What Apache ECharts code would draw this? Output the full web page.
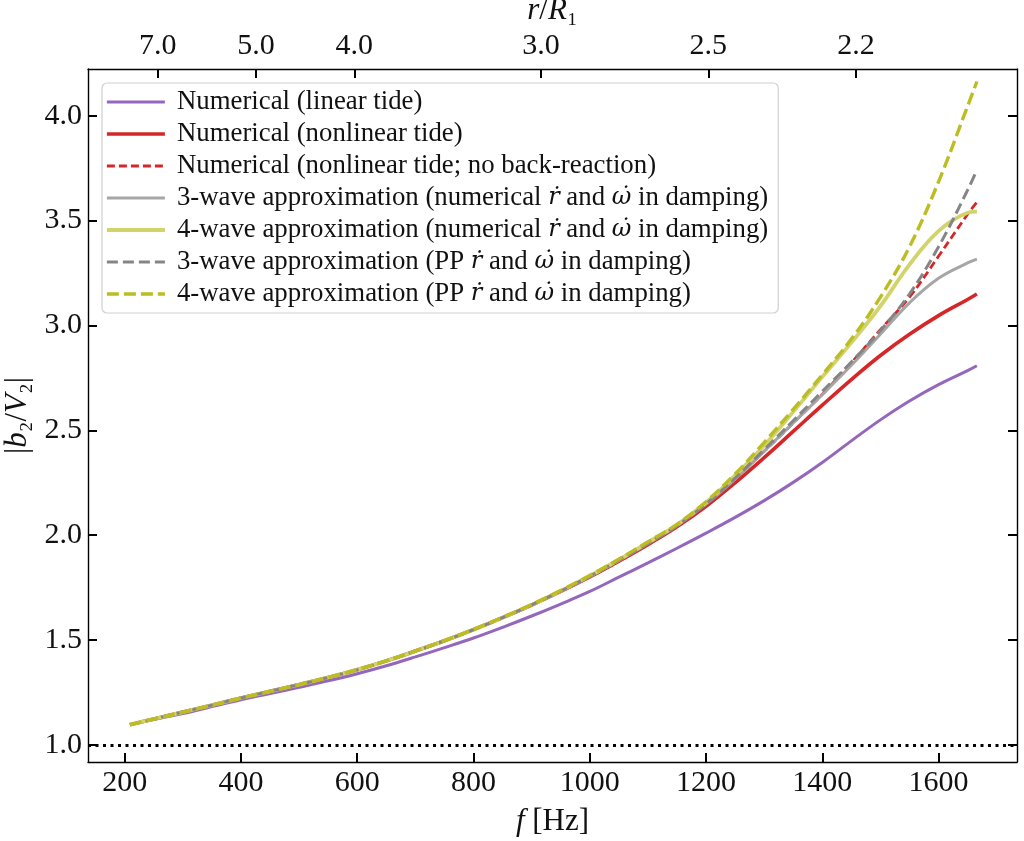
<!DOCTYPE html>
<html>
<head>
<meta charset="utf-8">
<script src="https://cdn.jsdelivr.net/npm/echarts@6/dist/echarts.min.js"></script>
<style>
  html, body { margin: 0; padding: 0; background: #fff; }
  #chart { width: 1024px; height: 841px; }
</style>
</head>
<body>
<div id="chart"></div>
<script>
// frequency grid (Hz)
var fHz = [209, 250, 300, 350, 400, 450, 500, 550, 600, 650, 700, 750, 800, 850, 900, 950, 1000,
           1050, 1100, 1150, 1200, 1250, 1300, 1350, 1400, 1450, 1500, 1550, 1600, 1650, 1666];

// |b2/V2| for each run
var linearTide     = [1.097, 1.122, 1.150, 1.183, 1.216, 1.245, 1.275, 1.306, 1.340, 1.378, 1.420, 1.464, 1.510, 1.561, 1.615, 1.672, 1.732,
                      1.800, 1.868, 1.938, 2.010, 2.085, 2.165, 2.252, 2.347, 2.450, 2.550, 2.640, 2.718, 2.785, 2.808];
var nonlinearTide  = [1.097, 1.124, 1.157, 1.190, 1.224, 1.256, 1.288, 1.322, 1.359, 1.401, 1.448, 1.497, 1.550, 1.607, 1.667, 1.732, 1.801,
                      1.876, 1.955, 2.040, 2.138, 2.250, 2.370, 2.495, 2.620, 2.742, 2.857, 2.958, 3.047, 3.124, 3.150];
var noBackReaction = [1.097, 1.124, 1.157, 1.190, 1.224, 1.256, 1.288, 1.322, 1.359, 1.401, 1.448, 1.497, 1.550, 1.607, 1.668, 1.734, 1.804,
                      1.880, 1.960, 2.045, 2.148, 2.268, 2.400, 2.535, 2.672, 2.822, 2.980, 3.135, 3.330, 3.530, 3.588];
var threeWaveNum   = [1.097, 1.124, 1.157, 1.190, 1.224, 1.256, 1.288, 1.322, 1.359, 1.401, 1.448, 1.497, 1.550, 1.607, 1.668, 1.734, 1.804,
                      1.880, 1.960, 2.045, 2.148, 2.268, 2.400, 2.535, 2.670, 2.810, 2.958, 3.108, 3.225, 3.298, 3.316];
var fourWaveNum    = [1.097, 1.124, 1.157, 1.190, 1.224, 1.256, 1.288, 1.322, 1.359, 1.401, 1.448, 1.497, 1.550, 1.607, 1.668, 1.735, 1.806,
                      1.884, 1.966, 2.050, 2.156, 2.285, 2.428, 2.588, 2.755, 2.918, 3.092, 3.290, 3.450, 3.537, 3.543];
var threeWavePP    = [1.097, 1.124, 1.157, 1.190, 1.224, 1.256, 1.288, 1.322, 1.359, 1.401, 1.448, 1.497, 1.550, 1.607, 1.668, 1.734, 1.804,
                      1.881, 1.961, 2.046, 2.150, 2.272, 2.408, 2.546, 2.686, 2.826, 2.975, 3.150, 3.375, 3.645, 3.742];
var fourWavePP     = [1.097, 1.124, 1.157, 1.190, 1.224, 1.256, 1.288, 1.322, 1.359, 1.401, 1.448, 1.498, 1.551, 1.609, 1.670, 1.737, 1.808,
                      1.886, 1.968, 2.052, 2.160, 2.292, 2.442, 2.600, 2.765, 2.935, 3.135, 3.375, 3.685, 4.045, 4.163];

// axis ticks
var fTicks = [200, 400, 600, 800, 1000, 1200, 1400, 1600];
var yTicks = [1.0, 1.5, 2.0, 2.5, 3.0, 3.5, 4.0];
// top axis: r/R1 labels and where they sit in f
var rLabels = ['7.0', '5.0', '4.0', '3.0', '2.5', '2.2'];
var rTickF  = [257, 426, 595, 916, 1204, 1458];

var FONT = "'Liberation Serif', 'DejaVu Serif', serif";
var MATH = "'DejaVu Serif', 'Liberation Serif', serif";

function pairs(ys) {
  return ys.map(function (y, i) { return [fHz[i], y]; });
}

function line(name, ys, color, width, dash) {
  return {
    name: name,
    type: 'line',
    data: pairs(ys),
    showSymbol: false,
    symbol: 'none',
    smooth: 0.4,
    lineStyle: { color: color, width: width, type: dash || 'solid' },
    itemStyle: { color: color },
    emphasis: { disabled: true }
  };
}

var series = [
  line('Numerical (linear tide)', linearTide, '#9467bd', 3),
  line('Numerical (nonlinear tide)', nonlinearTide, '#d62728', 3.6),
  line('Numerical (nonlinear tide; no back-reaction)', noBackReaction, '#d62728', 2.8, [8, 4]),
  line('3-wave approximation (numerical \u1E59 and \u03C9\u0307 in damping)', threeWaveNum, '#a6a6a6', 3),
  line('4-wave approximation (numerical \u1E59 and \u03C9\u0307 in damping)', fourWaveNum, '#d2d36a', 3.8),
  line('3-wave approximation (PP \u1E59 and \u03C9\u0307 in damping)', threeWavePP, '#858585', 3, [11, 5]),
  line('4-wave approximation (PP \u1E59 and \u03C9\u0307 in damping)', fourWavePP, '#bcbd22', 3.4, [12, 5])
];

// dotted reference line at 1
series[0].markLine = {
  silent: true,
  symbol: 'none',
  label: { show: false },
  lineStyle: { color: '#000', width: 3, type: [3, 4.5] },
  data: [{ yAxis: 1 }]
};

// legend entries keep each series' own line width
var legendData = series.map(function (s) {
  return { name: s.name, lineStyle: { width: s.lineStyle.width, type: s.lineStyle.type, color: s.lineStyle.color } };
});

var tickStyle = { show: true, inside: true, length: 9, lineStyle: { color: '#000', width: 2 } };
var axisLineStyle = { show: true, lineStyle: { color: '#000', width: 1.4 } };

var myChart = echarts.init(document.getElementById('chart'));
var option = {
  animation: false,
  backgroundColor: '#fff',
  textStyle: { fontFamily: FONT },
  grid: { left: 88, right: 7, top: 69, bottom: 79, containLabel: false, outerBoundsMode: 'none' },
  legend: {
    data: legendData,
    orient: 'vertical',
    left: 102,
    top: 83,
    padding: [3, 10, 3, 3],
    itemWidth: 58,
    itemHeight: 14,
    itemGap: 0,
    itemStyle: { opacity: 0 },
    backgroundColor: 'rgba(255,255,255,0.85)',
    borderColor: '#d0d0d0',
    borderWidth: 1.2,
    borderRadius: 5,
    selectedMode: false,
    formatter: function (name) {
      return name.replace('\u1E59', '{m|\u1E59}').replace('\u03C9\u0307', '{m|\u03C9\u0307}');
    },
    textStyle: {
      fontFamily: FONT,
      fontSize: 26.8,
      color: '#111',
      lineHeight: 32,
      padding: [0, 0, 0, 7],
      rich: {
        m: { fontFamily: MATH, fontSize: 24, fontStyle: 'italic', lineHeight: 32, color: '#111' }
      }
    }
  },
  xAxis: [
    {
      type: 'value',
      position: 'bottom',
      min: 136.8,
      max: 1735,
      name: '{i|f} [Hz]',
      nameLocation: 'middle',
      nameGap: 44,
      nameTextStyle: {
        fontFamily: FONT, fontSize: 31, color: '#111',
        rich: { i: { fontFamily: FONT, fontSize: 31, fontStyle: 'italic', color: '#111' } }
      },
      axisLine: axisLineStyle,
      axisTick: Object.assign({ customValues: fTicks }, tickStyle),
      axisLabel: {
        customValues: fTicks,
        margin: 6,
        fontFamily: FONT, fontSize: 30, color: '#111',
        formatter: function (v) { return String(v); }
      },
      splitLine: { show: false }
    },
    {
      type: 'value',
      position: 'top',
      min: 136.8,
      max: 1735,
      name: '{i|r}/{i|R}\u2081',
      nameLocation: 'middle',
      nameGap: 34,
      nameTextStyle: {
        fontFamily: FONT, fontSize: 31, color: '#111',
        rich: { i: { fontFamily: FONT, fontSize: 31, fontStyle: 'italic', color: '#111' } }
      },
      axisLine: axisLineStyle,
      axisTick: Object.assign({ customValues: rTickF }, tickStyle),
      axisLabel: {
        customValues: rTickF,
        margin: 8,
        fontFamily: FONT, fontSize: 30, color: '#111',
        formatter: function (v) {
          var k = rTickF.indexOf(v);
          return k >= 0 ? rLabels[k] : '';
        }
      },
      splitLine: { show: false }
    }
  ],
  yAxis: [
    {
      type: 'value',
      position: 'left',
      min: 0.919,
      max: 4.2226,
      name: '|{i|b}\u2082/{i|V}\u2082|',
      nameLocation: 'middle',
      nameRotate: 90,
      nameGap: 54,
      nameTextStyle: {
        fontFamily: FONT, fontSize: 31, color: '#111',
        rich: { i: { fontFamily: FONT, fontSize: 31, fontStyle: 'italic', color: '#111' } }
      },
      axisLine: axisLineStyle,
      axisTick: Object.assign({ customValues: yTicks }, tickStyle),
      axisLabel: {
        customValues: yTicks,
        margin: 6,
        fontFamily: FONT, fontSize: 30, color: '#111',
        formatter: function (v) { return v.toFixed(1); }
      },
      splitLine: { show: false }
    },
    {
      type: 'value',
      position: 'right',
      min: 0.919,
      max: 4.2226,
      axisLine: axisLineStyle,
      axisTick: Object.assign({ customValues: yTicks }, tickStyle),
      axisLabel: { show: false },
      splitLine: { show: false }
    }
  ],
  series: series
};
option && myChart.setOption(option);
window.addEventListener('resize', function () { myChart.resize(); });
</script>
</body>
</html>
